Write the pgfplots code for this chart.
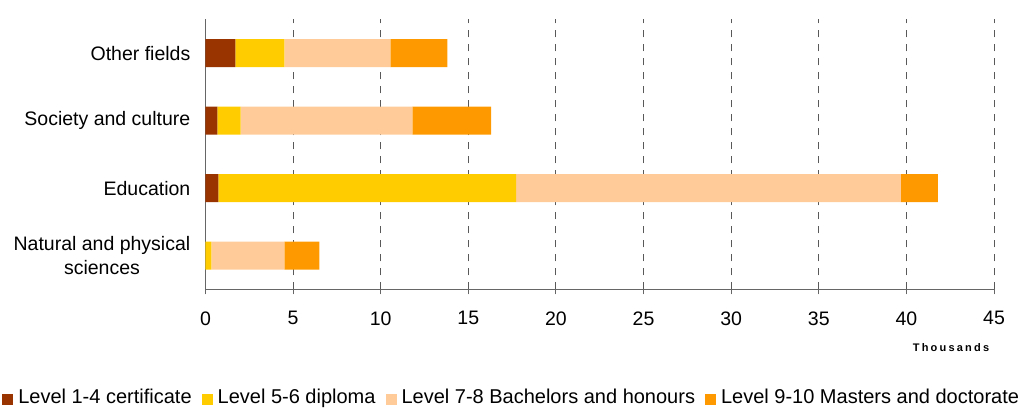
\documentclass[border=0pt]{standalone}
\usepackage{fontspec}
\setmainfont{Liberation Sans}
\usepackage{pgfplots}
\pgfplotsset{compat=1.18}

\definecolor{lvlA}{HTML}{993300}
\definecolor{lvlB}{HTML}{FFCC00}
\definecolor{lvlC}{HTML}{FFCC99}
\definecolor{lvlD}{HTML}{FF9900}

\begin{document}
\begin{tikzpicture}
\begin{axis}[
    xbar stacked,
    bar width=28bp,
    scale only axis,
    clip=false,
    width=788.5bp, height=270bp,
    xmin=0, xmax=45,
    ymin=0.5, ymax=4.5,
    axis lines*=left,
    axis line style={black!60, line width=0.9bp},
    xtick={0,5,...,45},
    ytick={1,2,3,4},
    yticklabels={{Natural and physical\\sciences},Education,{Society and culture},Other fields},
    minor ytick={0.5,1.5,2.5,3.5,4.5},
    tick align=outside,
    major tick length=5bp,
    minor tick length=5bp,
    ytick style={draw=none},
    minor tick style={draw=black!60, line width=0.9bp},
    xtick style={black!60, line width=0.9bp},
    xmajorgrids,
    grid style={black!65, line width=0.9bp, dash pattern=on 7bp off 7bp},
    tick label style={font=\fontsize{19.5bp}{23.5bp}\selectfont},
    /pgf/number format/assume math mode=true,
    yticklabel style={align=center, inner sep=0pt, xshift=-10bp},
    xticklabel style={inner sep=0pt, yshift=-17bp},
    legend columns=4,
    legend style={at={(-0.258,-0.399)}, anchor=west, draw=none, fill=none,
        inner sep=0pt,
        font=\fontsize{20bp}{24bp}\selectfont,
        nodes={inner sep=0pt},
        /tikz/every odd column/.append style={column sep=5bp},
        /tikz/every even column/.append style={column sep=10bp}},
    legend image code/.code={\fill[#1] (0bp,-8bp) rectangle (11bp,3bp);},
]
\addplot[fill=lvlA, draw=none] coordinates {(0,1) (0.74,2) (0.68,3) (1.7,4)};
\addplot[fill=lvlB, draw=none] coordinates {(0.34,1) (16.99,2) (1.32,3) (2.8,4)};
\addplot[fill=lvlC, draw=none] coordinates {(4.16,1) (21.95,2) (9.8,3) (6.05,4)};
\addplot[fill=lvlD, draw=none] coordinates {(2.0,1) (2.12,2) (4.5,3) (3.25,4)};
\legend{Level 1-4 certificate, Level 5-6 diploma, Level 7-8 Bachelors and honours, Level 9-10 Masters and doctorate}
\node[font=\fontsize{11bp}{13bp}\selectfont\bfseries\addfontfeatures{LetterSpace=20}]
    at (axis description cs:0.9455,-0.214) {Thousands};
\end{axis}
\pgfresetboundingbox
\path (-205.5bp,-118.7bp) rectangle (813.5bp,289.3bp);
\end{tikzpicture}
\end{document}
